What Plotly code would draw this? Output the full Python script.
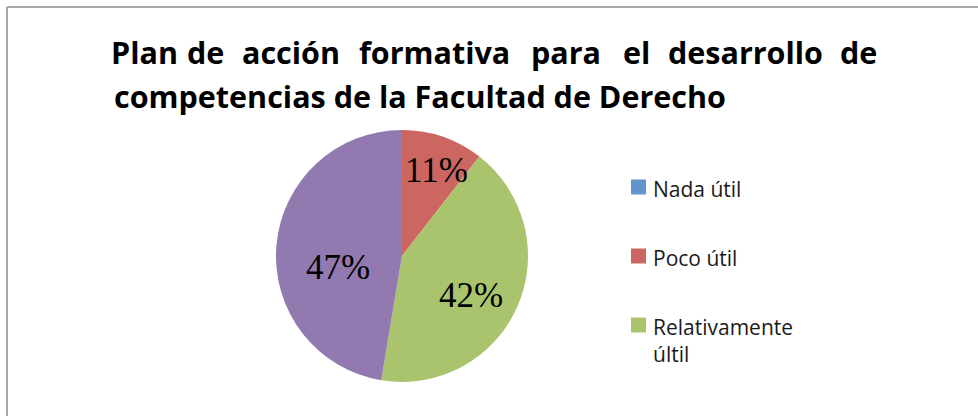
import math
import plotly.graph_objects as go

categories = ["Nada útil", "Poco útil", "Relativamente últil", "Muy útil"]
values = [0, 4, 16, 18]
colors = ["#6195CB", "#CC6660", "#AAC46E", "#927AB0"]
legend_labels = ["Nada útil", "Poco útil", "Relativamente<br>últil"]
title_line1 = ["Plan", "de", "acción", "formativa", "para", "el", "desarrollo", "de"]
title_line1_cx = [144, 205, 291, 434, 566, 636, 745, 858]
title_line2 = "competencias de la Facultad de Derecho"

# label placement style (radial fraction, angular nudge in degrees)
label_r = [0.0, 0.73, 0.63, 0.52]
label_nudge = [0, 3, 6, -15]

W, H = 978, 416
cx, cy, R = 402, 256, 126
TITLE_FONT = dict(family="Open Sans", size=30.5, color="#000000", weight="bold")

fig = go.Figure()
fig.add_trace(go.Pie(
    labels=categories, values=values, sort=False, direction="clockwise",
    rotation=0, marker=dict(colors=colors, line=dict(width=0)),
    textinfo="none", showlegend=False, hoverinfo="label+percent",
    domain=dict(x=[(cx - R) / W, (cx + R) / W], y=[(H - cy - R) / H, (H - cy + R) / H]),
))

annotations = []
total = sum(values)
cum = 0
for v, rf, nd in zip(values, label_r, label_nudge):
    frac = v / total
    mid = (cum + frac / 2) * 360 + nd
    cum += frac
    if v == 0:
        continue
    px = cx + rf * R * math.sin(math.radians(mid))
    py = cy - rf * R * math.cos(math.radians(mid))
    annotations.append(dict(text=f"{round(frac * 100)}%", x=px / W, y=1 - py / H,
                            xref="paper", yref="paper", xanchor="center", yanchor="middle",
                            showarrow=False,
                            font=dict(family="Liberation Serif", size=35, color="#000000")))

for word, x in zip(title_line1, title_line1_cx):
    annotations.append(dict(text=word, x=x / W, y=1 - 52 / H, xref="paper", yref="paper",
                            xanchor="center", yanchor="middle", showarrow=False,
                            font=TITLE_FONT))
annotations.append(dict(text=title_line2, x=112 / W, y=1 - 96 / H, xref="paper", yref="paper",
                        xanchor="left", yanchor="middle", showarrow=False,
                        font=TITLE_FONT))

shapes = []
leg_y = [187, 256, 325]
for lab, col, y in zip(legend_labels, colors[:3], leg_y):
    shapes.append(dict(type="rect", xref="paper", yref="paper",
                       x0=631 / W, x1=646 / W, y0=1 - (y + 7.5) / H, y1=1 - (y - 7.5) / H,
                       fillcolor=col, line=dict(width=0)))
    annotations.append(dict(text=lab, x=651 / W, y=1 - (y - 14) / H, xref="paper", yref="paper",
                            xanchor="left", yanchor="top", align="left", showarrow=False,
                            font=dict(family="Open Sans", size=21, color="#1a1a1a")))

shapes.append(dict(type="line", xref="paper", yref="paper", x0=7 / W, x1=1, y0=1 - 7 / H, y1=1 - 7 / H,
                   line=dict(color="#a6a6a6", width=2)))
shapes.append(dict(type="line", xref="paper", yref="paper", x0=7 / W, x1=7 / W, y0=0, y1=1 - 7 / H,
                   line=dict(color="#a6a6a6", width=2)))

fig.update_layout(width=W, height=H, margin=dict(l=0, r=0, t=0, b=0),
                  paper_bgcolor="#ffffff", plot_bgcolor="#ffffff",
                  annotations=annotations, shapes=shapes)
fig.write_html("out.html", config={"displayModeBar": False},
               post_script="document.body.style.margin='0';")
